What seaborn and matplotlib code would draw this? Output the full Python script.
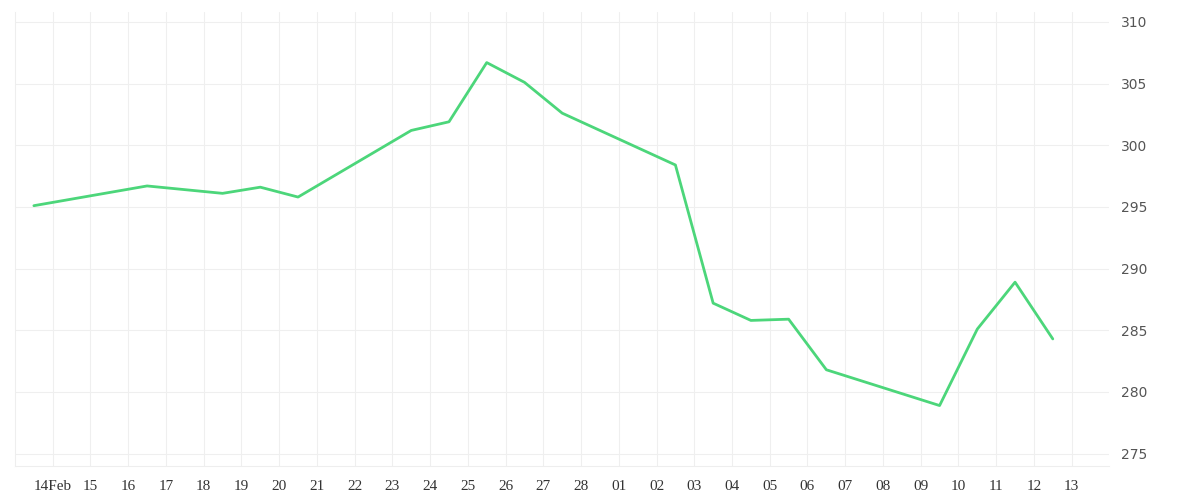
import pandas as pd
import numpy as np
import matplotlib
matplotlib.use("Agg")
import matplotlib.pyplot as plt
import seaborn as sns

# Data (points sit half a day before each date label)
point_days = ["2021-02-14", "2021-02-17", "2021-02-19", "2021-02-20", "2021-02-21",
              "2021-02-24", "2021-02-25", "2021-02-26", "2021-02-27", "2021-02-28",
              "2021-03-03", "2021-03-04", "2021-03-05", "2021-03-06", "2021-03-07",
              "2021-03-10", "2021-03-11", "2021-03-12", "2021-03-13"]
values = [295.1, 296.7, 296.1, 296.6, 295.8,
          301.2, 301.9, 306.7, 305.1, 302.6,
          298.4, 287.2, 285.8, 285.9, 281.8,
          278.9, 285.1, 288.9, 284.3]
tick_days = pd.date_range("2021-02-14", "2021-03-13", freq="D")
tick_labels = ["14Feb"] + [d.strftime("%d") for d in tick_days[1:]]
y_ticks = [275, 280, 285, 290, 295, 300, 305, 310]

df = pd.DataFrame({"date": pd.to_datetime(point_days) - pd.Timedelta(hours=12),
                   "value": values})

sns.set_style("white")
fig = plt.figure(figsize=(12, 5), dpi=100)
ax = fig.add_axes([0.0125, 0.068, 0.912, 0.908])

sns.lineplot(data=df, x="date", y="value", ax=ax, color="#4cd67a", linewidth=2)

ax.set_xlim(pd.Timestamp("2021-02-13"), pd.Timestamp("2021-03-14"))
ax.set_ylim(274.0, 310.8)
ax.set_xticks(tick_days)
ax.set_xticklabels(tick_labels, fontfamily="Liberation Serif", fontsize=11, color="#333333")
ax.set_yticks(y_ticks)
ax.set_yticklabels([str(v) for v in y_ticks], fontsize=10, color="#555555")
ax.yaxis.tick_right()
ax.tick_params(axis="x", length=6, color="#eeeeee", pad=4)
ax.tick_params(axis="y", length=0, pad=8)
ax.grid(True, color="#efefef", linewidth=0.8)
for s in ["top", "right"]:
    ax.spines[s].set_visible(False)
ax.spines["bottom"].set_color("#eeeeee")
ax.spines["left"].set_color("#eeeeee")
ax.set_xlabel("")
ax.set_ylabel("")

fig.savefig("out.png")
